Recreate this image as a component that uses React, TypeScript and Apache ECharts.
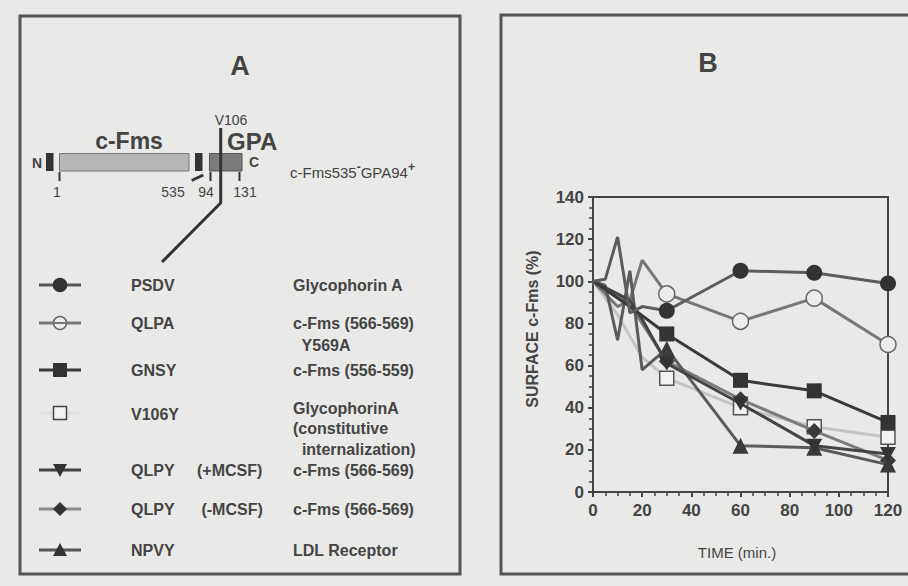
import React, { useEffect, useRef } from "react";
import * as echarts from "echarts";

// ---- data (time in min, surface c-Fms %) ----
const psdv = [[0, 100], [5, 101], [10, 121], [15, 85], [20, 88], [30, 86], [60, 105], [90, 104], [120, 99]];
const qlpa = [[0, 100], [10, 88], [15, 91], [20, 110], [30, 94], [60, 81], [90, 92], [120, 70]];
const gnsy = [[0, 100], [15, 88], [30, 75], [60, 53], [90, 48], [120, 33]];
const v106y = [[0, 100], [10, 84], [20, 64], [30, 54], [60, 40], [90, 31], [120, 26]];
const qlpyPlus = [[0, 100], [10, 94], [15, 91], [20, 82], [30, 61], [60, 42], [90, 22], [120, 18]];
const qlpyMinus = [[0, 100], [10, 93], [15, 89], [20, 80], [30, 62], [60, 44], [90, 29], [120, 15]];
const npvy = [[0, 100], [5, 98], [10, 72], [15, 105], [20, 58], [30, 68], [60, 22], [90, 21], [120, 13]];

const xTicks = [0, 20, 40, 60, 80, 100, 120];
const yTicks = [0, 20, 40, 60, 80, 100, 120, 140];

const legendRows = [
  { code: "PSDV", extra: "", desc: ["Glycophorin A"] },
  { code: "QLPA", extra: "", desc: ["c-Fms (566-569)", "  Y569A"] },
  { code: "GNSY", extra: "", desc: ["c-Fms (556-559)"] },
  { code: "V106Y", extra: "", desc: ["GlycophorinA", "(constitutive", "  internalization)"] },
  { code: "QLPY", extra: "(+MCSF)", desc: ["c-Fms (566-569)"] },
  { code: "QLPY", extra: " (-MCSF)", desc: ["c-Fms (566-569)"] },
  { code: "NPVY", extra: "", desc: ["LDL Receptor"] },
];

const FONT = "'Liberation Sans', Arial, Helvetica, sans-serif";
const BG = "#e9e9e7";

const markedOnly = (pts: number[][]) =>
  pts.map(([t, v]) => (t >= 30 ? { value: [t, v] } : { value: [t, v], symbol: "none" }));

export default function App() {
  const ref = useRef<HTMLDivElement>(null);
  useEffect(() => {
    if (!ref.current) return;
    const chart = echarts.init(ref.current, null, { renderer: "svg" });

    const seriesDefs = [
      { name: "V106Y", data: v106y, line: "#c4c4c2", symbol: "rect", size: 14, fill: "#f2f2f0", stroke: "#555", z: 1 },
      { name: "QLPA", data: qlpa, line: "#777", symbol: "circle", size: 16, fill: "#ececea", stroke: "#666", z: 2 },
      { name: "QLPY (-MCSF)", data: qlpyMinus, line: "#7c7c7c", symbol: "diamond", size: 16, fill: "#3a3a3a", stroke: "#3a3a3a", z: 3 },
      { name: "NPVY", data: npvy, line: "#5a5a5a", symbol: "triangle", size: 16, fill: "#3a3a3a", stroke: "#3a3a3a", z: 4 },
      { name: "QLPY (+MCSF)", data: qlpyPlus, line: "#444", symbol: "path://M0,0L10,0L5,9Z", size: 16, fill: "#333", stroke: "#333", z: 5 },
      { name: "GNSY", data: gnsy, line: "#3a3a3a", symbol: "rect", size: 15, fill: "#333", stroke: "#333", z: 6 },
      { name: "PSDV", data: psdv, line: "#5c5c5c", symbol: "circle", size: 16, fill: "#333", stroke: "#333", z: 7 },
    ];

    const rowY = [285, 323, 370, 413, 470, 509, 550];
    const descY: number[][] = [[285], [323, 345], [370], [408, 428, 449], [470], [509], [550]];
    const legendSym: any[] = [
      { t: "circle", line: "#555", fill: "#333", stroke: "#333" },
      { t: "ocircle", line: "#777", fill: "#ececea", stroke: "#666" },
      { t: "rect", line: "#3a3a3a", fill: "#333", stroke: "#333" },
      { t: "orect", line: "#e0e0de", fill: "#f2f2f0", stroke: "#444" },
      { t: "dtri", line: "#444", fill: "#333", stroke: "#333" },
      { t: "diamond", line: "#888", fill: "#333", stroke: "#333" },
      { t: "tri", line: "#555", fill: "#333", stroke: "#333" },
    ];
    const legendEls: any[] = [];
    legendRows.forEach((r, i) => {
      const y = rowY[i];
      const s = legendSym[i];
      legendEls.push({
        type: "line",
        shape: { x1: 39, y1: y, x2: 81, y2: y },
        style: { stroke: s.line, lineWidth: 3 },
      });
      const cx = 60;
      if (s.t === "circle" || s.t === "ocircle") {
        legendEls.push({ type: "circle", shape: { cx, cy: y, r: 6.5 }, style: { fill: s.fill, stroke: s.stroke, lineWidth: 1.5 } });
        if (s.t === "ocircle")
          legendEls.push({ type: "line", shape: { x1: 53, y1: y, x2: 67, y2: y }, style: { stroke: s.line, lineWidth: 2 } });
      } else if (s.t === "rect" || s.t === "orect") {
        legendEls.push({ type: "rect", shape: { x: cx - 6.5, y: y - 6.5, width: 13, height: 13 }, style: { fill: s.fill, stroke: s.stroke, lineWidth: s.t === "orect" ? 1.5 : 1 } });
      } else if (s.t === "dtri") {
        legendEls.push({ type: "polygon", shape: { points: [[cx - 7, y - 6], [cx + 7, y - 6], [cx, y + 7]] }, style: { fill: s.fill } });
      } else if (s.t === "tri") {
        legendEls.push({ type: "polygon", shape: { points: [[cx - 7, y + 6], [cx + 7, y + 6], [cx, y - 7]] }, style: { fill: s.fill } });
      } else if (s.t === "diamond") {
        legendEls.push({ type: "polygon", shape: { points: [[cx, y - 7], [cx + 7, y], [cx, y + 7], [cx - 7, y]] }, style: { fill: s.fill } });
      }
      const tStyle = { fill: "#444", font: `bold 16px ${FONT}`, verticalAlign: "middle", align: "left" };
      legendEls.push({ type: "text", x: 131, y: i === 3 ? 414 : y, style: { ...tStyle, text: r.code } });
      if (r.extra) legendEls.push({ type: "text", x: 197, y, style: { ...tStyle, text: r.extra } });
      r.desc.forEach((d, k) => {
        legendEls.push({ type: "text", x: 293, y: descY[i][k], style: { ...tStyle, text: d } });
      });
    });

    const graphics: any[] = [
      { type: "rect", shape: { x: 0, y: 7, width: 908, height: 579 }, style: { fill: BG }, z: -10 },
      { type: "rect", shape: { x: 20, y: 16, width: 440, height: 558 }, style: { fill: "none", stroke: "#555", lineWidth: 3 } },
      { type: "rect", shape: { x: 501, y: 15, width: 430, height: 559 }, style: { fill: "none", stroke: "#555", lineWidth: 3 } },
      { type: "text", x: 240, y: 66, style: { text: "A", font: `bold 27px ${FONT}`, fill: "#444", align: "center", verticalAlign: "middle" } },
      { type: "text", x: 708, y: 63, style: { text: "B", font: `bold 27px ${FONT}`, fill: "#444", align: "center", verticalAlign: "middle" } },
      // construct diagram
      { type: "text", x: 129, y: 141, style: { text: "c-Fms", font: `bold 23px ${FONT}`, fill: "#444", align: "center", verticalAlign: "middle" } },
      { type: "text", x: 227, y: 141, style: { text: "GPA", font: `bold 24px ${FONT}`, fill: "#444", align: "left", verticalAlign: "middle" } },
      { type: "text", x: 231, y: 120, style: { text: "V106", font: `14px ${FONT}`, fill: "#444", align: "center", verticalAlign: "middle" } },
      { type: "text", x: 37, y: 163, style: { text: "N", font: `bold 14px ${FONT}`, fill: "#444", align: "center", verticalAlign: "middle" } },
      { type: "text", x: 249, y: 162, style: { text: "C", font: `bold 14px ${FONT}`, fill: "#444", align: "left", verticalAlign: "middle" } },
      { type: "rect", shape: { x: 46, y: 153, width: 7.5, height: 18 }, style: { fill: "#333" } },
      { type: "rect", shape: { x: 59.5, y: 153.5, width: 129.5, height: 17.5 }, style: { fill: "#b7b7b5", stroke: "#777", lineWidth: 1 } },
      { type: "rect", shape: { x: 195, y: 153, width: 7.5, height: 18 }, style: { fill: "#333" } },
      { type: "rect", shape: { x: 209.5, y: 153.5, width: 32.5, height: 17.5 }, style: { fill: "#7b7b7b", stroke: "#555", lineWidth: 1 } },
      { type: "polyline", shape: { points: [[220.7, 128], [220.7, 203], [162, 262]] }, style: { stroke: "#333", lineWidth: 3, fill: "none" } },
      { type: "line", shape: { x1: 59.5, y1: 172, x2: 59.5, y2: 181 }, style: { stroke: "#333", lineWidth: 2 } },
      { type: "line", shape: { x1: 191.7, y1: 180.5, x2: 203.3, y2: 175 }, style: { stroke: "#333", lineWidth: 3 } },
      { type: "line", shape: { x1: 210.5, y1: 172, x2: 210.5, y2: 181 }, style: { stroke: "#333", lineWidth: 2 } },
      { type: "line", shape: { x1: 239.5, y1: 172, x2: 239.5, y2: 181 }, style: { stroke: "#333", lineWidth: 2 } },
      { type: "text", x: 57, y: 192, style: { text: "1", font: `14px ${FONT}`, fill: "#444", align: "center", verticalAlign: "middle" } },
      { type: "text", x: 173, y: 192, style: { text: "535", font: `14px ${FONT}`, fill: "#444", align: "center", verticalAlign: "middle" } },
      { type: "text", x: 206, y: 192, style: { text: "94", font: `14px ${FONT}`, fill: "#444", align: "center", verticalAlign: "middle" } },
      { type: "text", x: 245, y: 192, style: { text: "131", font: `14px ${FONT}`, fill: "#444", align: "center", verticalAlign: "middle" } },
      {
        type: "text", x: 290, y: 170,
        style: {
          text: "{n|c-Fms535}{s|-}{n|GPA94}{s|+}",
          align: "left", verticalAlign: "middle",
          rich: {
            n: { font: `15px ${FONT}`, fill: "#444", lineHeight: 19, verticalAlign: "bottom" },
            s: { font: `bold 12px ${FONT}`, fill: "#444", lineHeight: 19, verticalAlign: "top", padding: [0, 0, 8, 0] },
          },
        },
      },
      ...legendEls,
      { type: "text", x: 532, y: 329, rotation: Math.PI / 2, style: { text: "SURFACE c-Fms (%)", font: `bold 16px ${FONT}`, fill: "#444", align: "center", verticalAlign: "middle" } },
      { type: "text", x: 737, y: 552, style: { text: "TIME (min.)", font: `15px ${FONT}`, fill: "#444", align: "center", verticalAlign: "middle" } },
    ];

    chart.setOption({
      animation: false,
      backgroundColor: BG,
      textStyle: { fontFamily: FONT },
      grid: { left: 593, top: 197, right: 20, bottom: 94, show: true, borderColor: "#444", borderWidth: 2, backgroundColor: "transparent" },
      xAxis: {
        type: "value", min: 0, max: 120, interval: 20,
        axisLine: { lineStyle: { color: "#444", width: 2 } },
        axisTick: { show: true, length: 5, lineStyle: { color: "#444", width: 2 } },
        minorTick: { show: true, splitNumber: 4, length: 4, lineStyle: { color: "#444", width: 1.5 } },
        splitLine: { show: false },
        axisLabel: { color: "#444", fontSize: 17, fontWeight: "bold", margin: 10, formatter: (v: number) => (xTicks.includes(v) ? String(v) : "") },
      },
      yAxis: {
        type: "value", min: 0, max: 140, interval: 20,
        axisLine: { lineStyle: { color: "#444", width: 2 } },
        axisTick: { show: true, length: 5, lineStyle: { color: "#444", width: 2 } },
        minorTick: { show: true, splitNumber: 4, length: 4, lineStyle: { color: "#444", width: 1.5 } },
        splitLine: { show: false },
        axisLabel: { color: "#444", fontSize: 17, fontWeight: "bold", margin: 9, formatter: (v: number) => (yTicks.includes(v) ? String(v) : "") },
      },
      graphic: { elements: graphics },
      series: seriesDefs.map((s) => ({
        type: "line",
        name: s.name,
        data: markedOnly(s.data),
        z: s.z + 2,
        symbol: s.symbol,
        symbolSize: s.symbol.startsWith("path") ? [16, 14] : s.size,
        showAllSymbol: true,
        lineStyle: { color: s.line, width: 3 },
        itemStyle: { color: s.fill, borderColor: s.stroke, borderWidth: s.fill === s.stroke ? 0 : 1.5 },
        emphasis: { disabled: true },
      })),
    });
    return () => chart.dispose();
  }, []);
  return <div ref={ref} style={{ position: "fixed", left: 0, top: 0, width: 908, height: 586 }} />;
}
